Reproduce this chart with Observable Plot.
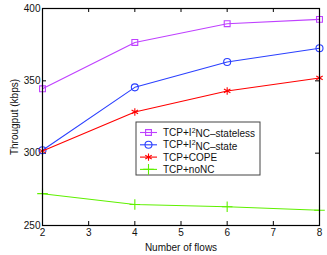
<!DOCTYPE html>
<html>
<head>
<meta charset="utf-8">
<script src="https://cdn.jsdelivr.net/npm/d3@7"></script>
<script src="https://cdn.jsdelivr.net/npm/@observablehq/plot@0.6"></script>
<style>
  html, body { margin: 0; padding: 0; background: #fff; }
  #chart { width: 327px; height: 255px; }
</style>
</head>
<body>
<div id="chart"></div>
<script>
const flows = [2, 4, 6, 8];
const stateless = [344.5, 376.5, 389.5, 392.5];
const state = [302, 345.5, 363, 372.5];
const cope = [301.5, 328.5, 343, 352];
const nonc = [272, 264.5, 263, 260.5];
const xTicks = [2, 3, 4, 5, 6, 7, 8];
const yTicks = [250, 300, 350, 400];

const seriesNames = ["TCP+I2NC-stateless", "TCP+I2NC-state", "TCP+COPE", "TCP+noNC"];
const seriesValues = [stateless, state, cope, nonc];
const colors = ["#bf40ff", "#2b40ff", "#ff0000", "#5ff000"];
const symbols = ["square", "circle", "asterisk", "plus"];
const hollow = [true, true, false, false];

const rows = [];
seriesNames.forEach((s, i) => flows.forEach((f, j) => rows.push({series: s, idx: i, x: f, y: seriesValues[i][j]})));

const W = 327, H = 255, mt = 8, mr = 8, mb = 30, ml = 42;
const pw = W - ml - mr, ph = H - mt - mb;
const font = "Liberation Sans, Arial, Helvetica, sans-serif";

const marks = [
  Plot.tickX(xTicks, {x: d => d, insetTop: ph - 4, stroke: "black"}),
  Plot.tickX(xTicks, {x: d => d, insetBottom: ph - 4, stroke: "black"}),
  Plot.tickY(yTicks, {y: d => d, insetRight: pw - 4, stroke: "black"}),
  Plot.tickY(yTicks, {y: d => d, insetLeft: pw - 4, stroke: "black"}),
  Plot.axisX(xTicks, {tickSize: 0, tickPadding: 3, label: "Number of flows", labelAnchor: "center", labelOffset: 25, labelArrow: "none"}),
  Plot.axisY(yTicks, {tickSize: 0, tickPadding: 2, label: "Througput (kbps)", labelAnchor: "center", labelOffset: 32, labelArrow: "none"})
];
seriesNames.forEach((s, i) => {
  const data = rows.filter(r => r.idx === i);
  marks.push(Plot.line(data, {x: "x", y: "y", stroke: colors[i], strokeWidth: 1.1}));
  marks.push(Plot.dot(data, {
    x: "x", y: "y", symbol: () => symbols[i], r: i === 0 ? 3.3 : 3.5,
    stroke: colors[i], fill: hollow[i] ? "none" : colors[i], strokeWidth: 1.1
  }));
});
marks.push(Plot.frame({stroke: "black", strokeWidth: 1.2}));

const chart = Plot.plot({
  width: W, height: H,
  marginTop: mt, marginRight: mr, marginBottom: mb, marginLeft: ml,
  x: {domain: [2, 8]},
  y: {domain: [250, 400]},
  style: {fontFamily: font, fontSize: "10px", color: "#111", background: "white"},
  marks
});
document.getElementById("chart").appendChild(chart);

// Legend drawn into the same SVG
const svg = d3.select(chart);
const lg = svg.append("g").attr("transform", "translate(136,122)")
  .style("font-family", font).style("font-size", "10px").attr("text-anchor", "start");
lg.append("rect").attr("width", 124).attr("height", 53).attr("fill", "white").attr("stroke", "#444").attr("stroke-width", 1);
const symMap = {square: d3.symbolSquare, circle: d3.symbolCircle, asterisk: d3.symbolAsterisk, plus: d3.symbolPlus};
seriesNames.forEach((s, i) => {
  const yy = 10.5 + i * 12.3;
  const g = lg.append("g").attr("transform", `translate(0,${yy})`);
  g.append("line").attr("x1", 4).attr("x2", 21).attr("y1", 0).attr("y2", 0).attr("stroke", colors[i]).attr("stroke-width", 1.1);
  const r = i === 0 ? 3.3 : 3.5;
  g.append("path").attr("transform", "translate(12.5,0)")
    .attr("d", d3.symbol(symMap[symbols[i]], Math.PI * r * r)())
    .attr("stroke", colors[i]).attr("fill", hollow[i] ? "none" : colors[i]).attr("stroke-width", 1.1);
  const t = g.append("text").attr("x", 27).attr("y", 0).attr("dy", "0.35em").attr("fill", "#111").attr("text-anchor", "start");
  if (s.includes("I2NC")) {
    const [pre, post] = s.split("I2NC");
    t.append("tspan").text(pre + "I");
    t.append("tspan").attr("dy", "-0.45em").style("font-size", "7px").text("2");
    t.append("tspan").attr("dy", "0.45em").text("NC" + post.replace("-", "\u2013"));
  } else {
    t.text(s);
  }
});
</script>
</body>
</html>
